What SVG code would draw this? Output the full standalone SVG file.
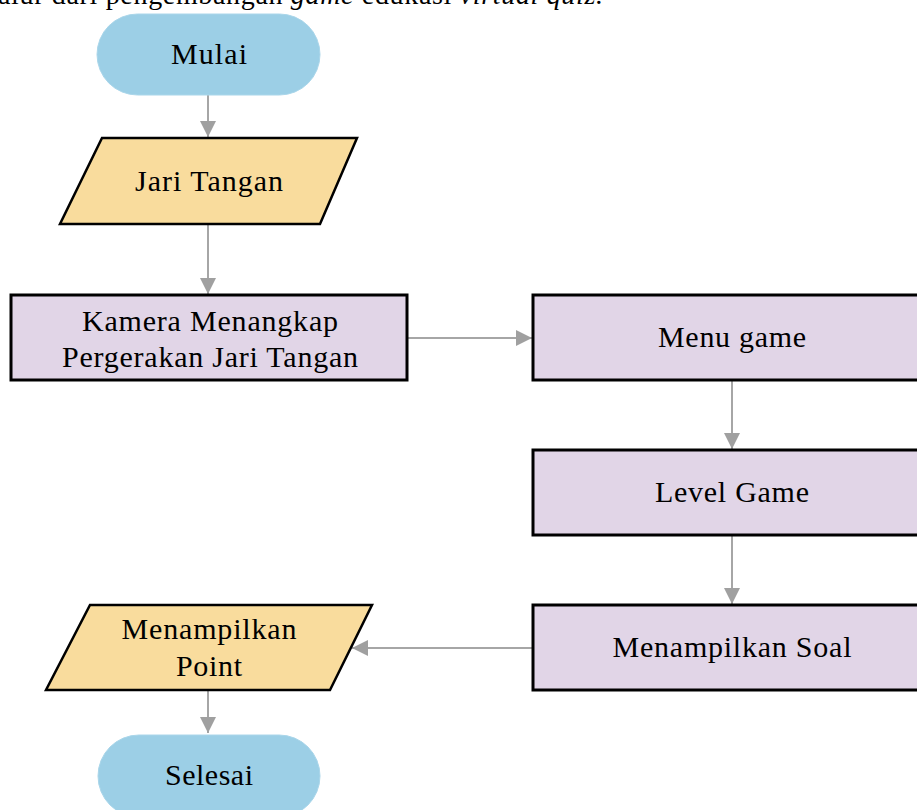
<svg xmlns="http://www.w3.org/2000/svg" width="917" height="810" viewBox="0 0 917 810">
<style>
  .t { font-family: "Liberation Serif", "Times New Roman", serif; font-size: 30px; fill: #000; text-anchor: middle; }
  .cap { font-family: "Liberation Serif", "Times New Roman", serif; font-size: 28px; fill: #000; }
  .term { fill: #9ccfe6; stroke: #aad6ea; stroke-width: 1; }
  .io { fill: #f9dc9d; stroke: #000; stroke-width: 2.5; stroke-linejoin: miter; }
  .proc { fill: #e1d5e7; stroke: #000; stroke-width: 3; }
  .conn line { stroke: #a6a6a6; stroke-width: 2; }
</style>
<defs>
  <marker id="arr" viewBox="0 0 16 16" refX="16" refY="8" markerWidth="16" markerHeight="16" markerUnits="userSpaceOnUse" orient="auto">
    <path d="M0,0 L16,8 L0,16 z" fill="#a0a0a0"/>
  </marker>
</defs>
<rect width="917" height="810" fill="#fff"/>
<text class="cap" x="-2" y="4" textLength="605">alur dari pengembangan <tspan font-style="italic">game</tspan> edukasi <tspan font-style="italic">virtual quiz.</tspan></text>
<g class="conn">
  <line x1="208" y1="95" x2="208" y2="137" marker-end="url(#arr)"/>
  <line x1="208" y1="224" x2="208" y2="294" marker-end="url(#arr)"/>
  <line x1="407" y1="338" x2="532" y2="338" marker-end="url(#arr)"/>
  <line x1="732" y1="380" x2="732" y2="449" marker-end="url(#arr)"/>
  <line x1="732" y1="535" x2="732" y2="604" marker-end="url(#arr)"/>
  <line x1="533" y1="648" x2="352" y2="648" marker-end="url(#arr)"/>
  <line x1="208" y1="690" x2="208" y2="733" marker-end="url(#arr)"/>
</g>
<g id="mulai">
  <rect class="term" x="97" y="14" width="223" height="81" rx="40.5"/>
  <text class="t" x="209" y="64" textLength="76">Mulai</text>
</g>
<g id="jari">
  <polygon class="io" points="102,138 357,138 320,224 60,224"/>
  <text class="t" x="209" y="191" textLength="148">Jari Tangan</text>
</g>
<g id="kamera">
  <rect class="proc" x="11" y="295" width="396" height="85"/>
  <text class="t" x="210" y="331" textLength="256">Kamera Menangkap</text>
  <text class="t" x="210" y="367" textLength="296">Pergerakan Jari Tangan</text>
</g>
<g id="menu">
  <rect class="proc" x="533" y="295" width="400" height="85"/>
  <text class="t" x="732" y="347" textLength="148">Menu game</text>
</g>
<g id="level">
  <rect class="proc" x="533" y="450" width="400" height="85"/>
  <text class="t" x="732" y="502" textLength="154">Level Game</text>
</g>
<g id="soal">
  <rect class="proc" x="533" y="605" width="400" height="85"/>
  <text class="t" x="732" y="657" textLength="239">Menampilkan Soal</text>
</g>
<g id="point">
  <polygon class="io" points="90,605 372,605 330,690 46,690"/>
  <text class="t" x="209" y="639" textLength="175">Menampilkan</text>
  <text class="t" x="209" y="676" textLength="66">Point</text>
</g>
<g id="selesai">
  <rect class="term" x="98" y="735" width="222" height="82" rx="41"/>
  <text class="t" x="209" y="785" textLength="88">Selesai</text>
</g>
</svg>
